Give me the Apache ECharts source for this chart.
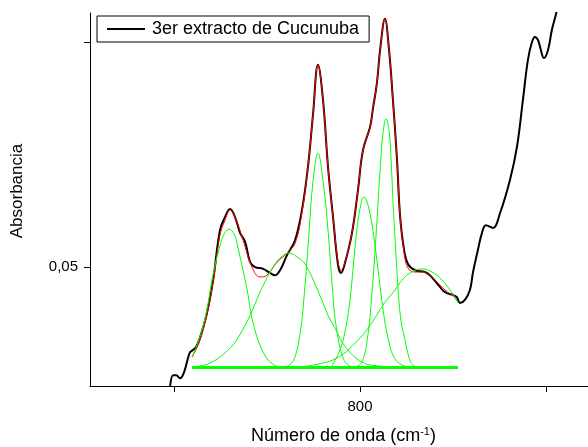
<!DOCTYPE html>
<html>
<head>
<meta charset="utf-8">
<script src="https://cdn.jsdelivr.net/npm/echarts@6/dist/echarts.min.js"></script>
<style>
  html, body { margin: 0; padding: 0; background: #fff; }
  #main { width: 588px; height: 447px; }
</style>
</head>
<body>
<div id="main"></div>
<script>
var myChart = echarts.init(document.getElementById('main'));

// [wavenumber, absorbance]
var spectrum = [[697.9,0.0236],[699.5,0.0260],[701.1,0.0260],[703.2,0.0253],[705.4,0.0267],[707.5,0.0298],
  [708.6,0.0311],[710.2,0.0316],[711.8,0.0322],[714.0,0.0344],[717.7,0.0398],[721.0,0.0471],[724.7,0.0582],
  [727.4,0.0611],[730.1,0.0629],[732.8,0.0611],[735.5,0.0576],[738.2,0.0556],[740.9,0.0511],[743.6,0.0500],
  [747.9,0.0496],[751.6,0.0487],[754.3,0.0482],[757.0,0.0493],[760.8,0.0527],[765.1,0.0560],[768.8,0.0627],
  [772.0,0.0722],[774.7,0.0838],[777.4,0.0949],[780.1,0.0871],[782.8,0.0722],[785.5,0.0611],[788.2,0.0504],
  [789.8,0.0487],[791.9,0.0509],[795.7,0.0576],[798.9,0.0671],[801.6,0.0760],[805.4,0.0811],[807.0,0.0853],
  [809.1,0.0909],[810.8,0.0982],[813.4,0.1051],[815.6,0.0982],[817.7,0.0871],[819.9,0.0738],[821.5,0.0616],
  [823.7,0.0538],[825.8,0.0507],[829.6,0.0493],[834.9,0.0489],[837.6,0.0482],[841.4,0.0464],[845.7,0.0444],
  [850.0,0.0438],[852.1,0.0433],[853.8,0.0420],[856.4,0.0427],[859.1,0.0449],[860.7,0.0487],[863.4,0.0538],
  [865.6,0.0576],[867.7,0.0593],[871.5,0.0587],[875.3,0.0620],[880.6,0.0693],[884.4,0.0767],[887.6,0.0871],
  [890.3,0.0960],[892.5,0.1000],[894.1,0.1011],[895.7,0.1004],[896.8,0.0989],[898.9,0.0964],[901.1,0.0982],
  [903.2,0.1027],[905.4,0.1062],[907.5,0.1104]];

var fitSum = [[709.7,0.0300],[714.0,0.0338],[717.7,0.0396],[721.0,0.0467],[724.7,0.0571],[727.4,0.0604],
  [730.1,0.0627],[732.8,0.0611],[737.1,0.0560],[741.9,0.0500],[746.2,0.0478],[750.0,0.0482],[755.4,0.0511],
  [760.8,0.0531],[765.1,0.0553],[768.8,0.0622],[772.0,0.0722],[774.7,0.0838],[777.4,0.0949],[780.1,0.0871],
  [782.8,0.0722],[785.5,0.0611],[788.2,0.0511],[789.8,0.0493],[791.9,0.0511],[795.7,0.0576],[798.9,0.0671],
  [801.6,0.0760],[805.4,0.0811],[807.0,0.0853],[809.1,0.0909],[810.8,0.0982],[813.4,0.1051],[815.6,0.0982],
  [817.7,0.0871],[819.9,0.0738],[821.5,0.0616],[823.7,0.0533],[825.8,0.0498],[829.6,0.0489],[834.9,0.0489],
  [837.6,0.0482],[841.4,0.0467],[845.7,0.0449],[850.0,0.0436],[852.7,0.0422]];

var peak1 = [[709.7,0.0302],[712.4,0.0327],[716.7,0.0387],[721.0,0.0484],[724.7,0.0547],[726.9,0.0573],
  [729.6,0.0584],[732.3,0.0573],[734.4,0.0542],[739.3,0.0449],[742.5,0.0376],[747.9,0.0311],[753.2,0.0284],
  [758.6,0.0278],[763.4,0.0277]];
var peak2 = [[709.7,0.0278],[719.4,0.0287],[730.1,0.0320],[735.5,0.0351],[740.9,0.0393],[746.2,0.0444],
  [750.0,0.0476],[754.3,0.0507],[758.1,0.0524],[761.8,0.0531],[765.6,0.0524],[770.4,0.0507],[777.4,0.0447],
  [782.8,0.0393],[786.6,0.0364],[791.9,0.0324],[801.1,0.0289],[810.8,0.0280],[821.5,0.0277]];
var peak3 = [[759.7,0.0278],[764.0,0.0291],[767.7,0.0351],[770.4,0.0458],[772.6,0.0578],[774.7,0.0689],
  [777.4,0.0753],[780.1,0.0691],[782.8,0.0582],[784.9,0.0467],[787.1,0.0371],[791.4,0.0293],[795.7,0.0278]];
var peak4 = [[784.9,0.0281],[789.2,0.0316],[791.9,0.0356],[794.6,0.0427],[797.3,0.0542],[799.5,0.0618],
  [802.2,0.0656],[804.8,0.0629],[808.1,0.0547],[811.8,0.0424],[815.1,0.0342],[818.8,0.0296],[824.2,0.0280],
  [829.6,0.0277]];
var peak5 = [[797.3,0.0278],[801.1,0.0289],[804.3,0.0351],[806.5,0.0447],[808.1,0.0538],[809.7,0.0642],
  [810.8,0.0716],[812.4,0.0798],[814.0,0.0829],[815.6,0.0804],[816.7,0.0738],[817.7,0.0649],[818.8,0.0567],
  [820.4,0.0456],[822.0,0.0382],[824.2,0.0338],[826.3,0.0300],[828.5,0.0282],[832.3,0.0277]];
var peak6 = [[767.7,0.0278],[781.2,0.0288],[789.2,0.0302],[795.7,0.0324],[804.3,0.0364],[813.4,0.0422],
  [818.8,0.0449],[822.6,0.0471],[826.9,0.0487],[833.3,0.0496],[838.7,0.0489],[843.0,0.0476],[848.4,0.0449],
  [852.7,0.0422]];
var baseline = [[709.7,0.0277],[852.7,0.0277]];

var xTicks = [700, 800, 900];
var xLabels = [800];
var yTicks = [0.05, 0.10];
var yLabels = [0.05];

function green(data, w) {
  return {
    type: 'line', data: data, symbol: 'none', smooth: 0.4, z: 4,
    lineStyle: { color: '#00ff00', width: w || 1 }
  };
}

var option = {
  animation: false,
  grid: { left: 90, right: 0, top: 13, bottom: 61, containLabel: false, outerBoundsMode: 'none' },
  legend: {
    left: 97, top: 16,
    padding: [4, 10, 4, 10],
    borderColor: '#000', borderWidth: 1, borderRadius: 0,
    backgroundColor: '#fff',
    icon: 'rect', itemWidth: 38, itemHeight: 2,
    textStyle: { fontFamily: 'Liberation Sans, Arial', fontSize: 18, color: '#000', padding: [0, 0, 0, 2] },
    data: ['3er extracto de Cucunuba']
  },
  xAxis: {
    type: 'value', min: 654.8, max: 922.6,
    name: 'Número de onda (cm{sup|-1})',
    nameLocation: 'middle', nameGap: 40,
    nameTextStyle: {
      fontFamily: 'Liberation Sans, Arial', fontSize: 18, color: '#000', padding: [0, 0, 0, 9],
      rich: { sup: { fontSize: 11, verticalAlign: 'top', padding: [0, 0, 9, 0], fontFamily: 'Liberation Sans, Arial', color: '#000' } }
    },
    axisLine: { show: true, lineStyle: { color: '#000', width: 1 } },
    axisTick: { show: true, customValues: xTicks, length: 6, lineStyle: { color: '#000' } },
    axisLabel: { customValues: xLabels, margin: 13, fontFamily: 'Liberation Sans, Arial', fontSize: 15, color: '#000' },
    splitLine: { show: false }
  },
  yAxis: {
    type: 'value', min: 0.0236, max: 0.1064,
    name: 'Absorbancia',
    nameLocation: 'middle', nameGap: 64,
    nameTextStyle: { fontFamily: 'Liberation Sans, Arial', fontSize: 17, color: '#000', padding: [0, 0, 0, 17] },
    axisLine: { show: true, lineStyle: { color: '#000', width: 1 } },
    axisTick: { show: true, customValues: yTicks, length: 6, lineStyle: { color: '#000' } },
    axisLabel: {
      customValues: yLabels, margin: 12, fontFamily: 'Liberation Sans, Arial', fontSize: 15, color: '#000',
      formatter: function (v) { return v.toFixed(2).replace('.', ','); }
    },
    splitLine: { show: false }
  },
  series: [
    {
      name: '3er extracto de Cucunuba', type: 'line', data: spectrum, symbol: 'none', smooth: 0.4, z: 2,
      lineStyle: { color: '#000', width: 2 }, itemStyle: { color: '#000' }
    },
    {
      name: 'fit', type: 'line', data: fitSum, symbol: 'none', smooth: 0.4, z: 3,
      lineStyle: { color: '#ff0000', width: 1 }
    },
    green(peak1), green(peak2), green(peak3), green(peak4), green(peak5), green(peak6),
    green(baseline, 3)
  ]
};
myChart.setOption(option);
</script>
</body>
</html>
